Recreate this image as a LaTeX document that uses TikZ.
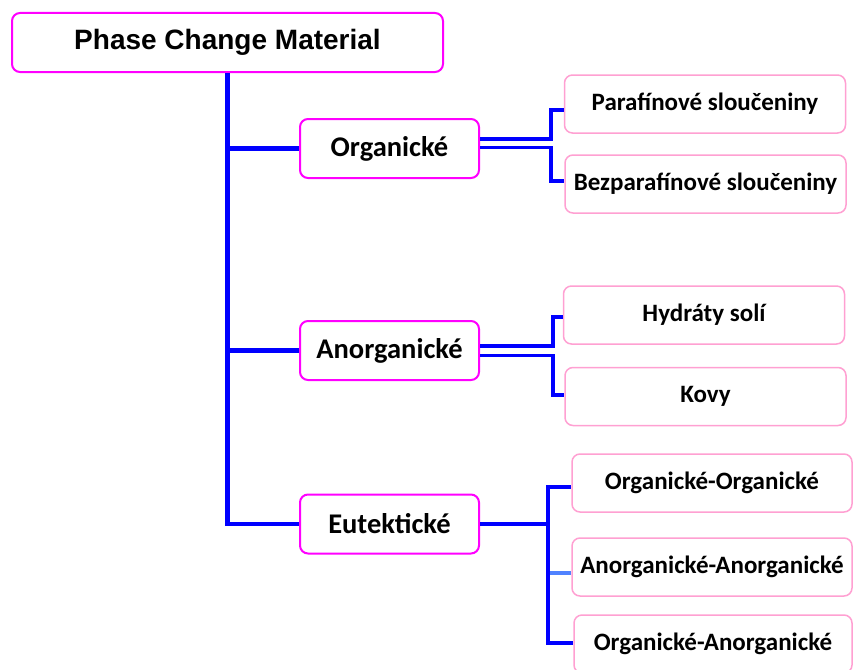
\documentclass[tikz,border=0pt]{standalone}
\usepackage{fontspec}
\setmainfont{Carlito}[BoldFont={* Bold}]
\newfontfamily\headfont{Liberation Sans}
\definecolor{linkblue}{RGB}{0,0,255}
\definecolor{paleblue}{RGB}{80,130,255}
\definecolor{boxmagenta}{RGB}{255,0,255}
\definecolor{boxpink}{RGB}{255,160,210}
\tikzset{
	rootbox/.style={draw=boxmagenta, line width=2pt, rounded corners=8pt, fill=white,
		minimum width=431pt, minimum height=59pt, font=\headfont\bfseries\fontsize{28}{30}\selectfont},
	groupbox/.style={draw=boxmagenta, line width=2pt, rounded corners=8pt, fill=white,
		minimum width=179pt, minimum height=59pt, font=\bfseries\fontsize{28.5}{30}\selectfont},
	leafbox/.style={draw=boxpink, line width=1.5pt, rounded corners=8pt, fill=white,
		minimum width=281pt, minimum height=58pt, inner xsep=2pt, font=\bfseries\fontsize{25}{27}\selectfont},
	trunk/.style={draw=linkblue, line width=4.5pt},
	branch/.style={draw=linkblue, line width=3.5pt}
}
\begin{document}
\begin{tikzpicture}[x=1pt, y=-1pt]
		\clip (0,0) rectangle (853,669);
		\fill[white] (0,0) rectangle (853,669);
		% levels
		\node[rootbox] (pcm) at (227.5,42.5) {Phase Change Material};
		\node[groupbox] (org) at (389.5,148.5) {Organické};
		\node[groupbox] (anorg) at (389.5,350.5) {Anorganické};
		\node[groupbox] (eut) at (389.5,524) {Eutektické};
		\node[leafbox] (par) at (705,104) {Parafínové sloučeniny};
		\node[leafbox] (bez) at (705.5,184) {Bezparafínové sloučeniny};
		\node[leafbox] (hyd) at (704,315) {Hydráty solí};
		\node[leafbox] (kov) at (705.5,396.5) {Kovy};
		\node[leafbox, minimum width=280pt] (oo) at (712,483) {Organické-Organické};
		\node[leafbox, minimum width=280pt] (aa) at (712,567) {Anorganické-Anorganické};
		\node[leafbox, minimum width=278pt] (oa) at (713,644) {Organické-Anorganické};
		\coordinate (fork) at (548,524);
		% trunk
		\draw[trunk] (pcm.south) |- (eut.west);
		\draw[trunk] (pcm.south |- org.west) -- (org.west);
		\draw[trunk] (pcm.south |- anorg.west) -- (anorg.west);
		% double links
		\draw[branch] ([yshift=9.5pt]org.east) -| (551,110) -- ([yshift=-6pt]par.west);
		\draw[branch] ([yshift=1pt]org.east) -| (551,181) -- ([yshift=3pt]bez.west);
		\draw[branch] ([yshift=4.5pt]anorg.east) -| (553,317) -- ([yshift=-2pt]hyd.west);
		\draw[branch] ([yshift=-5pt]anorg.east) -| (553,395) -- ([yshift=1.5pt]kov.west);
		% eutectic fork
		\draw[branch] (eut.east) -- (fork);
		\draw[branch] (fork) |- ([yshift=-4pt]oo.west);
		\draw[branch] (fork) |- ([yshift=1pt]oa.west);
		\draw[branch, draw=paleblue] ([xshift=2pt]fork |- 0,573) -- ([yshift=-6pt]aa.west);
\end{tikzpicture}
\end{document}
